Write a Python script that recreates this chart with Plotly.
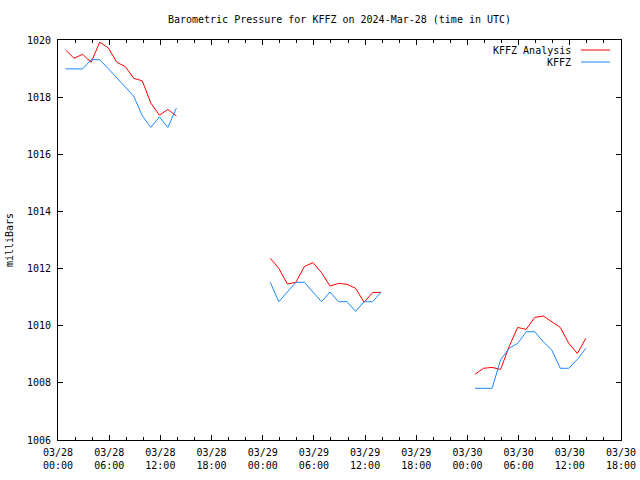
import plotly.graph_objects as go
import pandas as pd

# ---- data ----
day1_times = pd.date_range("2024-03-28 00:53", periods=14, freq="h")
day2_times = pd.date_range("2024-03-29 00:53", periods=14, freq="h")
day3_times = pd.date_range("2024-03-30 00:53", periods=14, freq="h")

analysis_d1 = [1019.65, 1019.36, 1019.50, 1019.22, 1019.92, 1019.73, 1019.22,
               1019.07, 1018.66, 1018.57, 1017.79, 1017.37, 1017.57, 1017.34]
analysis_d2 = [1012.36, 1012.01, 1011.46, 1011.52, 1012.07, 1012.21, 1011.86,
               1011.39, 1011.48, 1011.45, 1011.31, 1010.82, 1011.16, 1011.17]
analysis_d3 = [1008.30, 1008.51, 1008.54, 1008.47, 1009.27, 1009.94, 1009.87,
               1010.29, 1010.34, 1010.14, 1009.94, 1009.38, 1009.03, 1009.56]

obs_d1 = [1018.99, 1018.99, 1018.99, 1019.31, 1019.31, 1019.00, 1018.68,
          1018.33, 1018.03, 1017.35, 1016.94, 1017.31, 1016.94, 1017.62]
obs_d2 = [1011.52, 1010.84, 1011.18, 1011.52, 1011.52, 1011.18, 1010.84,
          1011.18, 1010.84, 1010.84, 1010.50, 1010.84, 1010.84, 1011.18]
obs_d3 = [1007.81, 1007.81, 1007.81, 1008.80, 1009.21, 1009.38, 1009.79,
          1009.79, 1009.44, 1009.15, 1008.51, 1008.51, 1008.82, 1009.21]

tick_vals = pd.date_range("2024-03-28 00:00", "2024-03-30 18:00", freq="6h")
y_ticks = [1006, 1008, 1010, 1012, 1014, 1016, 1018, 1020]

legend_names = ["KFFZ Analysis", "KFFZ"]
colors = ["#ff0000", "#1a88ff"]

# ---- build ----
def join(segs_t, segs_v):
    xs, ys = [], []
    for t, v in zip(segs_t, segs_v):
        xs += list(t) + [None]
        ys += list(v) + [None]
    return xs[:-1], ys[:-1]

times = [day1_times, day2_times, day3_times]
xa, ya = join(times, [analysis_d1, analysis_d2, analysis_d3])
xo, yo = join(times, [obs_d1, obs_d2, obs_d3])

FONT = "DejaVu Sans Mono"
fig = go.Figure()
fig.add_trace(go.Scatter(x=xa, y=ya, mode="lines", name=legend_names[0],
                         line=dict(color=colors[0], width=1), showlegend=False))
fig.add_trace(go.Scatter(x=xo, y=yo, mode="lines", name=legend_names[1],
                         line=dict(color=colors[1], width=1), showlegend=False))

W, H = 640, 480
L, R, T, B = 58, 19, 40, 40
pw, ph = W - L - R, H - T - B

def px_to_paper(x, y):
    return (x - L) / pw, (H - B - y) / ph

# custom gnuplot-style legend
for i, (name, col) in enumerate(zip(legend_names, colors)):
    ypix = 50 + i * 12
    tx, ty = px_to_paper(573, ypix)
    fig.add_annotation(x=tx, y=ty, xref="paper", yref="paper", text=name,
                       showarrow=False, xanchor="right", yanchor="middle",
                       font=dict(family=FONT, size=10, color="black"))
    x0, y0 = px_to_paper(581, ypix)
    x1, _ = px_to_paper(610, ypix)
    fig.add_shape(type="line", xref="paper", yref="paper", x0=x0, x1=x1, y0=y0, y1=y0,
                  line=dict(color=col, width=1))

fig.update_layout(
    width=W, height=H,
    margin=dict(l=L, r=R, t=T, b=B, autoexpand=False),
    paper_bgcolor="white", plot_bgcolor="white",
    font=dict(family=FONT, size=10, color="black"),
    title=dict(text="Barometric Pressure for KFFZ on 2024-Mar-28 (time in UTC)",
               x=(L + pw / 2) / W, xanchor="center", y=1 - 19 / H, yanchor="middle",
               yref="container", font=dict(family=FONT, size=10)),
    showlegend=False,
)
fig.update_xaxes(
    type="date", automargin=False,
    range=["2024-03-28 00:00", "2024-03-30 18:00"],
    tickvals=list(tick_vals), tickformat="%m/%d<br>%H:%M",
    ticks="inside", ticklen=5, tickcolor="black", tickwidth=1,
    minor=dict(dtick=2 * 3600 * 1000, ticks="inside", ticklen=3, tickcolor="black",
               tick0="2024-03-28 00:00"),
    showline=True, linecolor="black", linewidth=1, mirror="ticks",
    showgrid=False, zeroline=False, ticklabelstandoff=3,
    tickfont=dict(family=FONT, size=10),
)
fig.update_yaxes(
    range=[1006, 1020], tickvals=y_ticks, automargin=False,
    ticks="inside", ticklen=5, tickcolor="black", tickwidth=1,
    showline=True, linecolor="black", linewidth=1, mirror="ticks",
    showgrid=False, zeroline=False, ticklabelstandoff=4,
    title=dict(text="milliBars", standoff=11, font=dict(family=FONT, size=10)),
    tickfont=dict(family=FONT, size=10),
)

fig.write_html("out.html")
